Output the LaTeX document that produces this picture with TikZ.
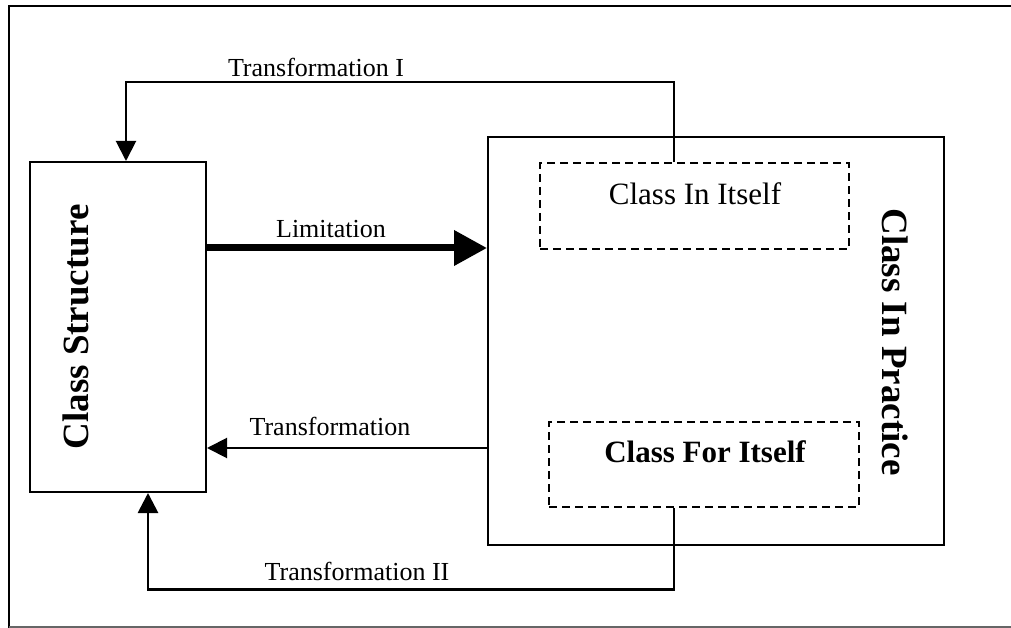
\documentclass[tikz,border=0pt]{standalone}
\usepackage{fontspec}
\setmainfont{Liberation Serif}
\usetikzlibrary{arrows.meta}
\begin{document}
\begin{tikzpicture}[x=1pt,y=-1pt,
  box/.style={draw, line width=2pt, inner sep=0pt},
  dbox/.style={draw, line width=1.6pt, dash pattern=on 8pt off 5pt, inner sep=0pt},
  conn/.style={line width=2pt, -{Triangle[length=20pt,width=20pt]}},
  thick conn/.style={line width=7pt, -{Triangle[length=33pt,width=34pt]}},
  lbl/.style={font=\fontsize{26}{30}\selectfont, anchor=base, inner sep=0pt},
  big/.style={font=\bfseries\fontsize{37}{42}\selectfont, anchor=base, inner sep=0pt}]
\useasboundingbox (0,0) rectangle (1011,628);
\fill[white] (0,0) rectangle (1011,628);
% outer frame
\draw[line width=1.8pt] (9,628) -- (9,6) -- (1011,6);
\draw[line width=1.2pt, black!60] (9,627) -- (1011,627);
% boxes
\node[box, minimum width=176pt, minimum height=330pt] (cs) at (118,327) {};
\node[big, rotate=90] (cst) at (88,327) {Class Structure};
\node[box, minimum width=456pt, minimum height=408pt] (cip) at (716,341) {};
\node[big, rotate=-90] (cipt) at (882,342) {Class In Practice};
\node[dbox, minimum width=309pt, minimum height=86pt] (cii) at (694.5,206) {};
\node[lbl, font=\fontsize{31}{36}\selectfont] (ciit) at (695,205) {Class In Itself};
\node[dbox, minimum width=310pt, minimum height=85pt] (cfi) at (704,464.5) {};
\node[lbl, font=\bfseries\fontsize{31}{36}\selectfont] (cfit) at (705,462) {Class For Itself};
% connectors
\draw[conn] ([xshift=-20.5pt]cii.north) -- ++(0,-80) -| ([xshift=8pt]cs.north);
\draw[thick conn] (cs.east |- 0,248) -- (cip.west |- 0,248);
\draw[conn] (cip.west |- 0,448) -- (cs.east |- 0,448);
\draw[conn, line width=2.8pt] ([xshift=-30pt]cfi.south) -- ++(0,82) -| ([xshift=30pt]cs.south);
% labels
\node[lbl] (l1) at (316,77) {Transformation I};
\node[lbl] (l2) at (331,237) {Limitation};
\node[lbl] (l3) at (330,435) {Transformation};
\node[lbl] (l4) at (357,580) {Transformation II};
\end{tikzpicture}
\end{document}
